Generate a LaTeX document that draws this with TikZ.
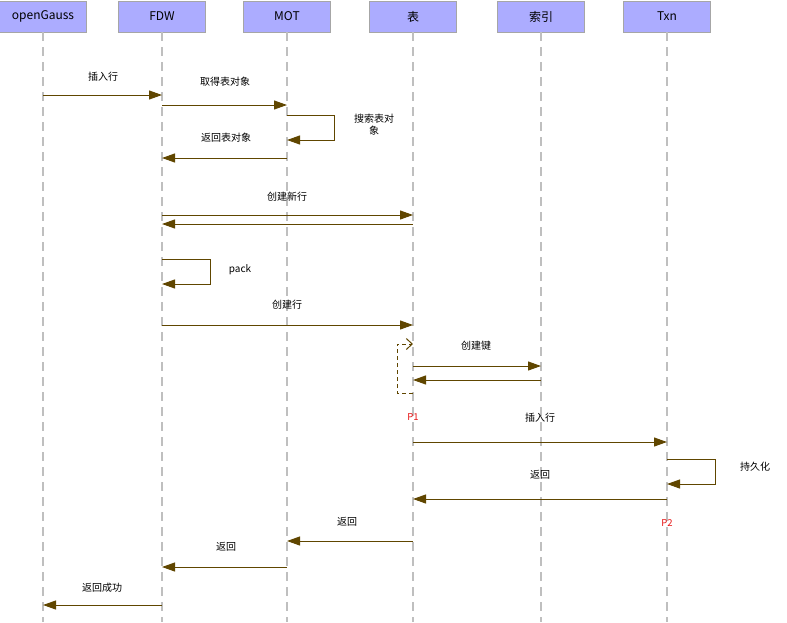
\documentclass[tikz,border=0pt]{standalone}
\usepackage{fontspec}
\setmainfont{Noto Sans CJK SC}
\usepackage{tikz}
\usetikzlibrary{arrows.meta}
\definecolor{boxcol}{RGB}{172,172,255}
\definecolor{msgcol}{RGB}{96,70,0}
\definecolor{pcol}{RGB}{230,20,20}

\tikzset{
  lifebox/.style={draw=gray!70,fill=boxcol,minimum width=87pt,minimum height=31pt,inner sep=0pt,font=\fontsize{12}{14}\selectfont},
  lifeline/.style={gray!50,line width=1.3pt,dash pattern=on 9pt off 6pt},
  msg/.style={msgcol,line width=1pt,-{Triangle[length=13pt,width=9pt]}},
  lbl/.style={font=\fontsize{10}{12}\selectfont,align=center},
  plbl/.style={pcol,font=\fontsize{9.5}{11}\selectfont}
}

\begin{document}
\begin{tikzpicture}[x=1pt,y=-1pt]
\useasboundingbox (0,0) rectangle (787,622);
% participants
\node[lifebox] (og)  at (43,16.5)  {openGauss};
\node[lifebox] (fdw) at (162,16.5) {FDW};
\node[lifebox] (mot) at (287,16.5) {MOT};
\node[lifebox] (tbl) at (413,16.5) {表};
\node[lifebox] (idx) at (541,16.5) {索引};
\node[lifebox] (txn) at (667,16.5) {Txn};
\foreach \p in {og,fdw,mot,tbl,idx,txn}
  \draw[lifeline] (\p.south) -- (\p.south |- 0,622);

% messages
\draw[msg] (og.south |- 0,95) -- (fdw.south |- 0,95);
\node[lbl] at (103,77) {插入行};
\draw[msg] (fdw.south |- 0,105) -- (mot.south |- 0,105);
\node[lbl] at (225,82) {取得表对象};
\draw[msg] (mot.south |- 0,115) -- ++(47,0) |- (mot.south |- 0,140);
\node[lbl] at (374,125) {搜索表对\\象};
\draw[msg] (mot.south |- 0,158) -- (fdw.south |- 0,158);
\node[lbl] at (226,138) {返回表对象};

\draw[msg] (fdw.south |- 0,215) -- (tbl.south |- 0,215);
\node[lbl] at (287,197) {创建新行};
\draw[msg] (tbl.south |- 0,224) -- (fdw.south |- 0,224);

\draw[msg] (fdw.south |- 0,259) -- ++(48,0) |- (fdw.south |- 0,284);
\node[lbl] at (240,270) {pack};

\draw[msg] (fdw.south |- 0,325) -- (tbl.south |- 0,325);
\node[lbl] at (287,305) {创建行};

% dashed activation on the table
\draw[msgcol,line width=1pt,dash pattern=on 4pt off 3pt,-{Straight Barb[length=6pt,width=11pt]}]
  (tbl.south |- 0,393) -- ++(-16,0) -- ++(0,-49) -- (tbl.south |- 0,344);
\draw[msg] (tbl.south |- 0,366) -- (idx.south |- 0,366);
\node[lbl] at (476,346) {创建键};
\draw[msg] (idx.south |- 0,380) -- (tbl.south |- 0,380);
\node[plbl] at (413,417) {P1};

\draw[msg] (tbl.south |- 0,442) -- (txn.south |- 0,442);
\node[lbl] at (540,418) {插入行};
\draw[msg] (txn.south |- 0,459) -- ++(48,0) |- (txn.south |- 0,484);
\node[lbl] at (755,467) {持久化};
\draw[msg] (txn.south |- 0,499) -- (tbl.south |- 0,499);
\node[lbl] at (540,475) {返回};
\node[plbl] at (667,523) {P2};

\draw[msg] (tbl.south |- 0,541) -- (mot.south |- 0,541);
\node[lbl] at (347,522) {返回};
\draw[msg] (mot.south |- 0,567) -- (fdw.south |- 0,567);
\node[lbl] at (226,547) {返回};
\draw[msg] (fdw.south |- 0,605) -- (og.south |- 0,605);
\node[lbl] at (102,588) {返回成功};
\end{tikzpicture}
\end{document}
